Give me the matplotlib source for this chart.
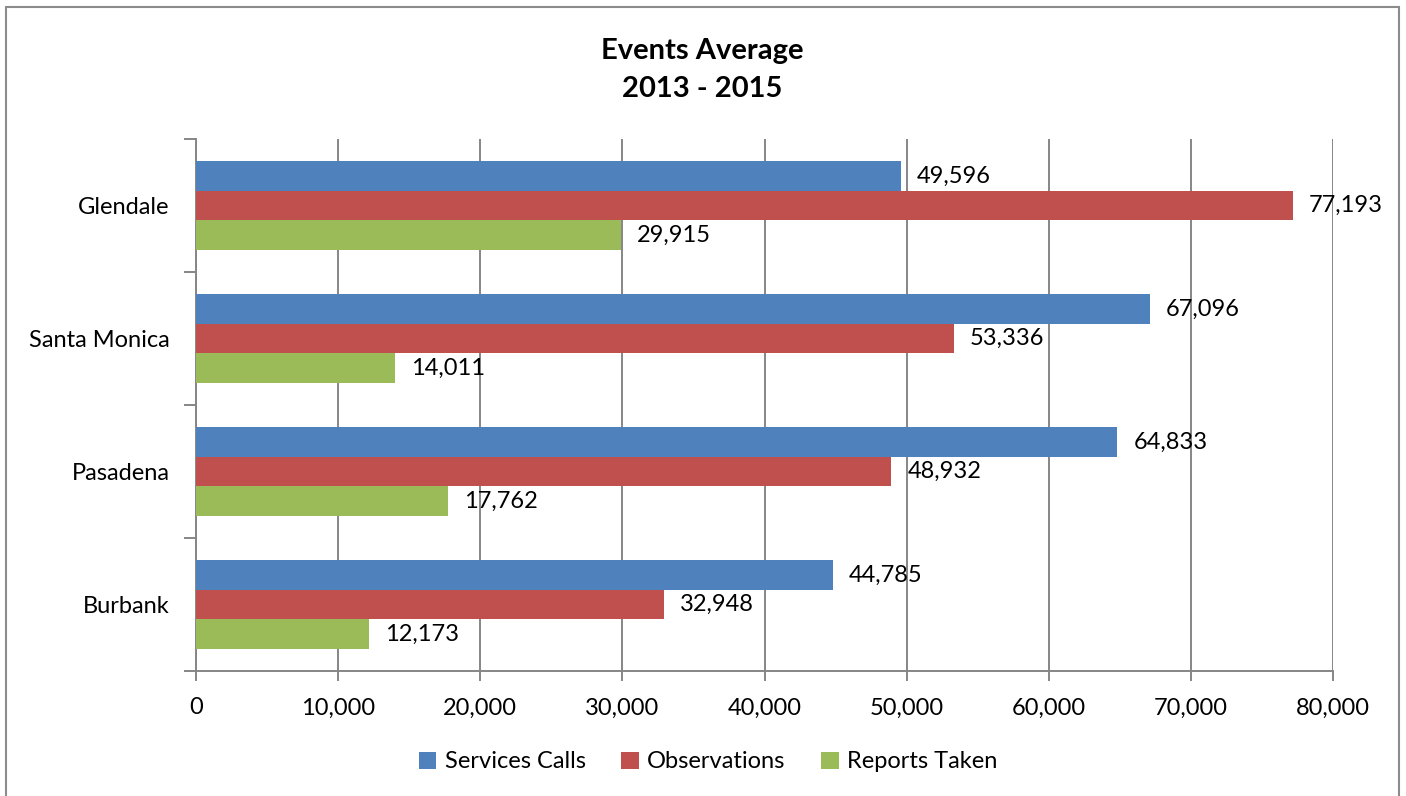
import matplotlib
matplotlib.use("Agg")
import matplotlib.pyplot as plt
from matplotlib.patches import Rectangle
from matplotlib.ticker import FuncFormatter, FixedLocator
import numpy as np

# Data
cities = ["Burbank", "Pasadena", "Santa Monica", "Glendale"]
series_names = ["Services Calls", "Observations", "Reports Taken"]
services_calls = [44785, 64833, 67096, 49596]
observations = [32948, 48932, 53336, 77193]
reports_taken = [12173, 17762, 14011, 29915]
x_ticks = [0, 10000, 20000, 30000, 40000, 50000, 60000, 70000, 80000]

colors = ["#4F81BD", "#C0504D", "#9BBB59"]
grid_gray = "#868686"
font = "Lato"

W, H = 1406, 796
fig = plt.figure(figsize=(W / 100, H / 100), dpi=100)
fig.patch.set_facecolor("white")

# Outer chart border
fig.patches.append(Rectangle((6 / W, -0.02), (1399 - 6) / W, 1.02 - 7 / H,
                             transform=fig.transFigure, fill=False,
                             edgecolor="#8c8c8c", linewidth=1.5, zorder=0))

left, right, top, bottom = 196, 1333, 139, 671
ax = fig.add_axes([left / W, 1 - bottom / H, (right - left) / W, (bottom - top) / H])

y = np.arange(len(cities))
h = 0.222
all_series = [services_calls, observations, reports_taken]
offsets = [h, 0, -h]
for vals, off, col, name in zip(all_series, offsets, colors, series_names):
    bars = ax.barh(y + off, vals, height=h, color=col, label=name, zorder=3)
    ax.bar_label(bars, labels=[f"{v:,}" for v in vals], padding=11.5,
                 fontsize=17, family=font, color="black")

ax.set_xlim(0, 80000)
ax.set_ylim(-0.5, len(cities) - 0.5)

ax.xaxis.set_major_locator(FixedLocator(x_ticks))
ax.xaxis.set_major_formatter(FuncFormatter(lambda v, p: f"{int(v):,}"))
ax.grid(axis="x", color=grid_gray, linewidth=1.4, zorder=0)
ax.set_axisbelow(True)

ax.set_yticks(np.arange(-0.5, len(cities), 1.0))
ax.set_yticklabels([])
ax.set_yticks(y, minor=True)
ax.set_yticklabels(cities, minor=True)
ax.tick_params(axis="y", which="major", length=9, width=1.4, color=grid_gray)
ax.tick_params(axis="y", which="minor", length=0, pad=19)
ax.tick_params(axis="x", which="major", length=7, width=1.4, color=grid_gray, pad=12)
for lbl in ax.get_xticklabels() + ax.get_yticklabels(minor=True):
    lbl.set_fontsize(17)
    lbl.set_family(font)

for s in ["top", "right"]:
    ax.spines[s].set_visible(False)
for s in ["left", "bottom"]:
    ax.spines[s].set_color(grid_gray)
    ax.spines[s].set_linewidth(1.4)

fig.text(702 / W, 1 - 70 / H, "Events Average\n2013 - 2015", ha="center", va="center",
         fontsize=21, fontweight="bold", family=font, linespacing=1.58)

handles, labels = ax.get_legend_handles_labels()
fig.legend(handles, labels, loc="center", bbox_to_anchor=(708 / W, 1 - 762 / H),
           ncol=3, frameon=False, prop={"family": font, "size": 17},
           handlelength=0.75, handleheight=0.75, handletextpad=0.35, columnspacing=1.5)

fig.savefig("out.png", dpi=100)
